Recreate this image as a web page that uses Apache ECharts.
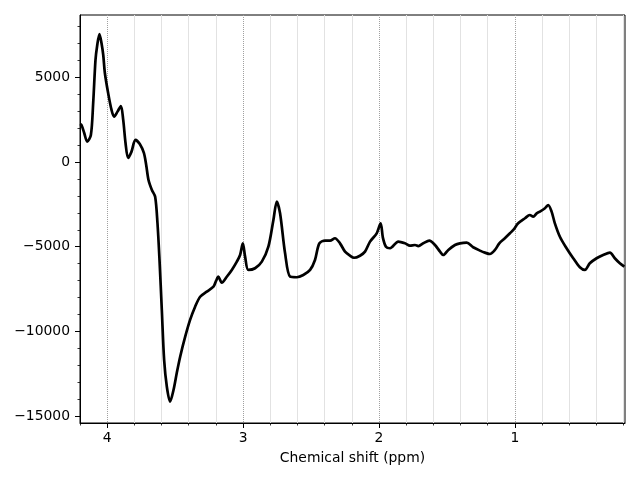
<!DOCTYPE html>
<html>
<head>
<meta charset="utf-8">
<script src="https://cdn.jsdelivr.net/npm/echarts@6/dist/echarts.min.js"></script>
<style>html,body{margin:0;padding:0;background:#fff}#c{width:640px;height:480px}</style>
</head>
<body>
<div id="c"></div>
<script>
var ppm = [4.20,4.189,4.169,4.147,4.120,4.103,4.086,4.074,4.057,4.042,4.029,4.017,3.993,3.968,3.949,3.924,3.899,3.882,3.865,3.846,3.821,3.792,3.760,3.730,3.713,3.696,3.671,3.647,3.630,3.615,3.598,3.581,3.561,3.537,3.512,3.488,3.463,3.426,3.390,3.353,3.316,3.267,3.218,3.199,3.182,3.157,3.120,3.083,3.046,3.022,3.002,2.985,2.961,2.912,2.862,2.814,2.777,2.752,2.728,2.691,2.654,2.605,2.557,2.507,2.471,2.439,2.397,2.360,2.324,2.287,2.250,2.213,2.184,2.140,2.103,2.066,2.017,1.988,1.971,1.949,1.919,1.858,1.809,1.772,1.735,1.711,1.674,1.630,1.588,1.551,1.527,1.490,1.441,1.404,1.355,1.307,1.257,1.221,1.184,1.147,1.115,1.074,1.037,1.012,0.976,0.926,0.890,0.865,0.840,0.816,0.779,0.755,0.730,0.706,0.669,0.620,0.571,0.522,0.485,0.449,0.399,0.351,0.301,0.265,0.228,0.195];
var intensity = [2240,2180,1710,1200,1590,3480,6020,6840,7550,7020,6310,5250,4070,3070,2670,2970,3300,2480,1120,240,610,1300,1060,530,-180,-1060,-1650,-2050,-3600,-5780,-8730,-11680,-13260,-14140,-13450,-12450,-11490,-10310,-9320,-8540,-7950,-7650,-7360,-7020,-6770,-7120,-6770,-6370,-5880,-5490,-4800,-5600,-6370,-6270,-5880,-5000,-3420,-2340,-3030,-5390,-6770,-6800,-6670,-6370,-5780,-4800,-4640,-4640,-4500,-4800,-5290,-5530,-5650,-5530,-5290,-4700,-4210,-3620,-4480,-5000,-5090,-4700,-4800,-4940,-4900,-4960,-4800,-4640,-4900,-5290,-5490,-5190,-4900,-4800,-4760,-5030,-5230,-5350,-5430,-5190,-4800,-4500,-4210,-4010,-3620,-3320,-3130,-3230,-3030,-2930,-2730,-2540,-2930,-3620,-4410,-5090,-5680,-6210,-6370,-5980,-5680,-5490,-5350,-5680,-5980,-6180];
var xMajor = [1,2,3,4];
var xMinor = [0.2,0.4,0.6,0.8,1.2,1.4,1.6,1.8,2.2,2.4,2.6,2.8,3.2,3.4,3.6,3.8,4.2];
var yMajor = [-15000,-10000,-5000,0,5000];
var yMinor = [-14000,-13000,-12000,-11000,-9000,-8000,-7000,-6000,-4000,-3000,-2000,-1000,1000,2000,3000,4000,6000,7000,8000];
var xLabel = 'Chemical shift (ppm)';

var data = ppm.map(function (p, i) { return [p, intensity[i]]; });
var font = 'DejaVu Sans';
var chart = echarts.init(document.getElementById('c'), null, {renderer: 'canvas'});
chart.setOption({
  animation: false,
  backgroundColor: '#fff',
  grid: {left: 80, right: 15, top: 15, bottom: 57, show: true, borderColor: '#000', borderWidth: 1, backgroundColor: 'transparent'},
  xAxis: [{
    type: 'value', inverse: true, min: 0.19, max: 4.2, position: 'bottom',
    name: xLabel, nameLocation: 'middle', nameGap: 28,
    nameTextStyle: {fontFamily: font, fontSize: 13.9, color: '#000'},
    axisLine: {show: true, onZero: false, lineStyle: {color: '#000', width: 1}},
    axisTick: {show: true, customValues: xMajor, length: 5, lineStyle: {color: '#000', width: 1}},
    axisLabel: {show: true, customValues: xMajor, margin: 8, fontFamily: font, fontSize: 13.9, color: '#000'},
    splitLine: {show: true, lineStyle: {color: '#a0a0a0', width: 1, type: [1, 1]}}
  }, {
    type: 'value', inverse: true, min: 0.19, max: 4.2, position: 'bottom',
    axisLine: {show: false, onZero: false},
    axisTick: {show: true, customValues: xMinor, length: 2.5, lineStyle: {color: '#000', width: 0.8}},
    axisLabel: {show: false},
    splitLine: {show: true, lineStyle: {color: '#e2e2e2', width: 1}}
  }],
  yAxis: [{
    type: 'value', min: -15400, max: 8670, position: 'left',
    axisLine: {show: true, onZero: false, lineStyle: {color: '#000', width: 1}},
    axisTick: {show: true, customValues: yMajor, length: 5, lineStyle: {color: '#000', width: 1}},
    axisLabel: {show: true, customValues: yMajor, margin: 10, fontFamily: font, fontSize: 13.9, color: '#000',
      formatter: function (v) { return String(v).replace('-', '\u2212'); }},
    splitLine: {show: false}
  }, {
    type: 'value', min: -15400, max: 8670, position: 'left',
    axisLine: {show: false, onZero: false},
    axisTick: {show: true, customValues: yMinor, length: 2.5, lineStyle: {color: '#000', width: 0.8}},
    axisLabel: {show: false},
    splitLine: {show: false}
  }],
  series: [{
    type: 'line', data: data, xAxisIndex: 0, yAxisIndex: 0,
    showSymbol: false, smooth: 0.3,
    lineStyle: {color: '#000', width: 2.7},
    z: 5
  }]
});
</script>
</body>
</html>
